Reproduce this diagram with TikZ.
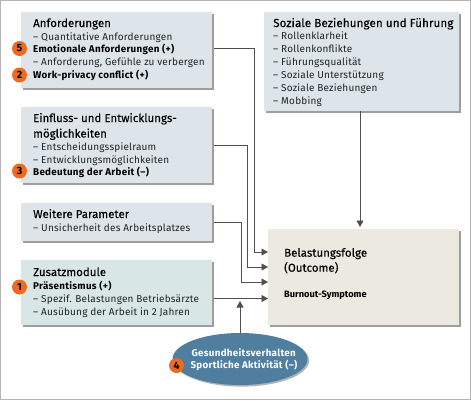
\documentclass[tikz,border=0pt]{standalone}
\usepackage{fontspec}
\setmainfont{Fira Sans}
\usetikzlibrary{arrows.meta,shadows,calc,shapes.geometric}
\definecolor{boxblue}{HTML}{DDE5EA}
\definecolor{boxgreen}{HTML}{D8E6E6}
\definecolor{boxsand}{HTML}{ECE9E1}
\definecolor{ellblue}{HTML}{4F7E9F}
\definecolor{badgeor}{HTML}{EC6B21}
\definecolor{linegr}{HTML}{505050}
\definecolor{frameg}{HTML}{B4B4B4}
\definecolor{txtc}{HTML}{222222}
\tikzset{
  x=1pt,y=-1pt,
  panel/.style={inner sep=0pt,outer sep=0pt,anchor=north west,fill=#1,
    drop shadow={shadow xshift=1.6pt,shadow yshift=-1.6pt,fill=black,opacity=.38}},
  head/.style={anchor=base west,inner sep=0pt,font=\fontsize{11.4}{12}\selectfont\addfontfeature{LetterSpace=0.5,FakeBold=0.25},text=black},
  widehead/.style={anchor=base west,inner sep=0pt,font=\fontsize{11.6}{12}\selectfont\addfontfeature{LetterSpace=1,FakeBold=0.25},text=black},
  item/.style={anchor=base west,inner sep=0pt,font=\fontsize{10}{12}\selectfont\addfontfeature{LetterSpace=2},text=txtc},
  bolditem/.style={anchor=base west,inner sep=0pt,font=\fontsize{9.8}{12}\selectfont\bfseries\addfontfeature{LetterSpace=3},text=black},
  narrowbold/.style={anchor=base west,inner sep=0pt,font=\fontsize{9.25}{12}\selectfont\bfseries,text=black},
  badge/.style={circle,fill=badgeor,inner sep=0pt,minimum size=15pt,font=\fontsize{10.5}{12}\selectfont\bfseries,text=black},
  conn/.style={draw=linegr,line width=.8pt},
  arr/.style={conn,-{Triangle[length=6.5pt,width=7pt]}},
}
\begin{document}
\begin{tikzpicture}
\useasboundingbox (0,0) rectangle (471,400);
\draw[frameg,line width=1pt] (0.5,0.5) rectangle (470.5,399.5);

\node[panel=boxblue,minimum width=191pt,minimum height=76pt] (b1) at (21,12) {};
\node[panel=boxblue,minimum width=191pt,minimum height=76pt] (b2) at (21,107) {};
\node[panel=boxblue,minimum width=191pt,minimum height=38pt] (b3) at (21,203) {};
\node[panel=boxgreen,minimum width=191pt,minimum height=65pt] (b4) at (21,260) {};
\node[panel=boxblue,minimum width=195pt,minimum height=99pt] (b5) at (264,12) {};
\node[panel=boxsand,minimum width=191pt,minimum height=96pt] (out) at (268,229) {};
\node[ellipse,fill=ellblue,minimum width=135pt,minimum height=52pt,inner sep=0pt,outer sep=0pt,
  drop shadow={shadow xshift=1.6pt,shadow yshift=-1.6pt,fill=black,opacity=.3}] (ell) at (240,359) {};

% connectors
\coordinate (c1) at (254.5,48);
\coordinate (c2) at (247.5,145);
\coordinate (c3) at (241,222.5);
\draw[arr] ($(b1.east |- c1)+(2,0)$) -- (c1) -- (c1 |- 0,252) -- (out.west |- 0,252);
\draw[arr] ($(b2.east |- c2)+(2,0)$) -- (c2) -- (c2 |- 0,267) -- (out.west |- 0,267);
\draw[arr] ($(b3.east |- c3)+(2,0)$) -- (c3) -- (c3 |- 0,282) -- (out.west |- 0,282);
\draw[arr] ($(b4.east |- 0,298.5)+(2,0)$) -- (out.west |- 0,298.5);
\draw[arr] (ell.north) -- (240,301);
\draw[arr] (b5.south -| 360,0) -- ($(out.north -| 360,0)+(0,-2)$);

% texts
\node[head] (t1a) at (33,27) {Anforderungen};
\node[item] (t1b) at (33,40) {– Quantitative Anforderungen};
\node[bolditem] (t1c) at (33,52.7) {Emotionale Anforderungen (+)};
\node[item] (t1d) at (33,65.5) {– Anforderung, Gefühle zu verbergen};
\node[bolditem] (t1e) at (33,78.5) {Work-privacy conflict (+)};

\node[head] (t2a) at (33,122) {Einfluss- und Entwicklungs-};
\node[head] (t2b) at (33,137.5) {möglichkeiten};
\node[item] (t2c) at (33,150) {– Entscheidungsspielraum};
\node[item] (t2d) at (33,163) {– Entwicklungsmöglichkeiten};
\node[bolditem] (t2e) at (33,175.5) {Bedeutung der Arbeit (–)};

\node[head] (t3a) at (33,218) {Weitere Parameter};
\node[item] (t3b) at (33,231.7) {– Unsicherheit des Arbeitsplatzes};

\node[head] (t4a) at (33,276) {Zusatzmodule};
\node[bolditem] (t4b) at (33,289) {Präsentismus (+)};
\node[item] (t4c) at (33,302) {– Spezif. Belastungen Betriebsärzte};
\node[item] (t4d) at (33,315) {– Ausübung der Arbeit in 2 Jahren};

\node[widehead] (t5a) at (273,27) {Soziale Beziehungen und Führung};
\node[item] (t5b) at (273,39.7) {– Rollenklarheit};
\node[item] (t5c) at (273,52.3) {– Rollenkonflikte};
\node[item] (t5d) at (273,65.5) {– Führungsqualität};
\node[item] (t5e) at (273,78.7) {– Soziale Unterstützung};
\node[item] (t5f) at (273,91.7) {– Soziale Beziehungen};
\node[item] (t5g) at (273,104.7) {– Mobbing};

\node[head] (t6a) at (284,256.7) {Belastungsfolge};
\node[head] (t6b) at (284,271.7) {(Outcome)};
\node[narrowbold] (t6c) at (284,297.7) {Burnout-Symptome};

\node[bolditem,anchor=base,text=white] (t7a) at (243.7,356) {Gesundheitsverhalten};
\node[bolditem,anchor=base,text=white] (t7b) at (244,368) {Sportliche Aktivität (–)};

% badges
\node[badge] (n5) at (19.5,48.5) {5};
\node[badge] (n2) at (19.5,75) {2};
\node[badge] (n3) at (19.5,171) {3};
\node[badge] (n1) at (19.5,287) {1};
\node[badge] (n4) at (176.5,365.5) {4};
\end{tikzpicture}
\end{document}
